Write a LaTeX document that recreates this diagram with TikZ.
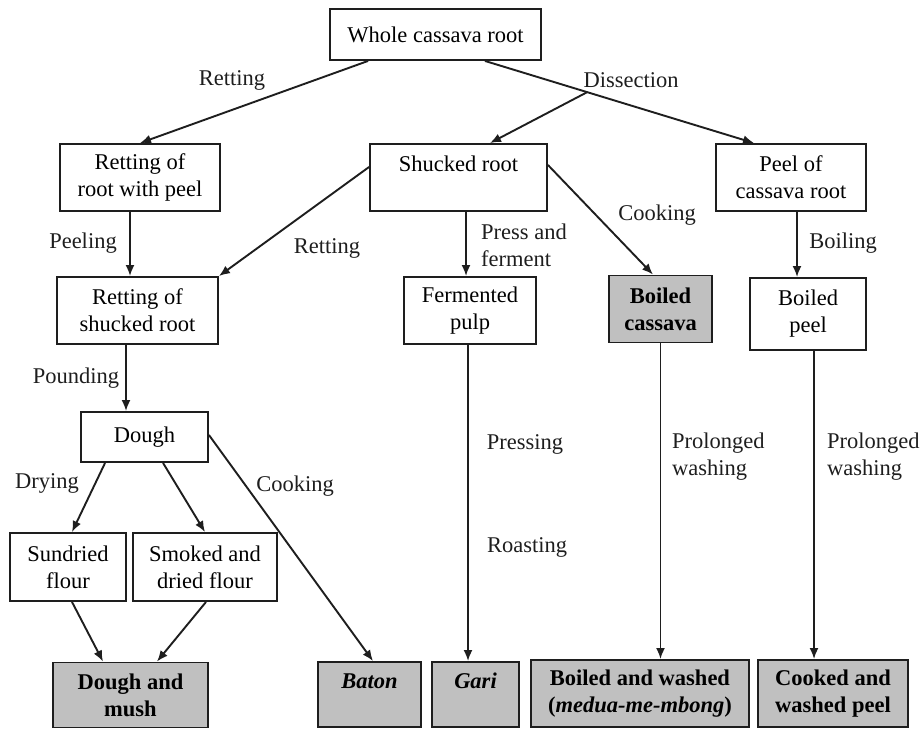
\documentclass[tikz,border=0pt]{standalone}
\usepackage{fontspec}
\setmainfont{Liberation Serif}
\usetikzlibrary{arrows.meta}
\definecolor{boxgray}{HTML}{C0C0C0}
\definecolor{inkgray}{HTML}{1E1E1E}

\begin{document}
\begin{tikzpicture}[x=1pt,y=-1pt,>={Latex[length=11pt,width=9pt]},
  font=\fontsize{22.5}{27}\selectfont,
  box/.style={draw=inkgray,line width=1.9pt,align=center,inner sep=0pt,minimum height=67pt},
  product/.style={box,fill=boxgray,font=\fontsize{22.5}{27}\selectfont\bfseries},
  flow/.style={->,draw=inkgray,line width=1.9pt},
  lab/.style={inkgray,align=left,inner sep=0pt}]
  \useasboundingbox (0,0) rectangle (920,728);
  % boxes
  \node[box,minimum width=211pt,minimum height=51pt] (whole) at (435.5,34.5) {Whole cassava root};
  \node[box,minimum width=160pt] (rwpeel) at (140,177.5) {Retting of\\root with peel};
  \node[box,minimum width=177pt] (shucked) at (458.5,177.5) {Shucked root\\\mbox{}};
  \node[box,minimum width=150pt] (peel) at (791,177.5) {Peel of\\cassava root};
  \node[box,minimum width=161pt] (rshucked) at (137.5,310.5) {Retting of\\shucked root};
  \node[box,minimum width=132pt] (pulp) at (470,310.5) {Fermented\\pulp};
  \node[product,minimum width=103pt] (boiled) at (660.5,309) {Boiled\\cassava};
  \node[box,minimum width=116pt,minimum height=72pt] (bpeel) at (808,314) {Boiled\\peel};
  \node[box,minimum width=127pt,minimum height=50pt] (dough) at (144.5,437) {Dough};
  \node[box,minimum width=116pt,minimum height=68pt] (sundried) at (68,567) {Sundried\\flour};
  \node[box,minimum width=144pt,minimum height=68pt] (smoked) at (205,567) {Smoked and\\dried flour};
  \node[product,minimum width=155pt,minimum height=65pt] (mush) at (130.5,695) {Dough and\\mush};
  \node[product,minimum width=103pt,minimum height=65pt] (baton) at (369.5,694.5) {\textit{Baton}\\\mbox{}};
  \node[product,minimum width=87pt,minimum height=65pt] (gari) at (475.5,694.5) {\textit{Gari}\\\mbox{}};
  \node[product,minimum width=218pt] (washed) at (640,693.5) {Boiled and washed\\(\textit{medua-me-mbong})};
  \node[product,minimum width=150pt] (wpeel) at (833,693.5) {Cooked and\\washed peel};

  % arrows
  \draw[flow] ([xshift=39pt]whole.south west) -- (rwpeel.north);
  \draw[flow] ([xshift=-57pt]whole.south east) -- ([xshift=-37pt]peel.north)
      coordinate[pos=0.38] (split);
  \draw[flow] (split) -- ([xshift=31.5pt]shucked.north);
  \draw[flow] ([yshift=10.5pt]shucked.west) -- (rshucked.north east);
  \draw[flow] ([xshift=-10pt]rwpeel.south) -- ([xshift=-10pt]rwpeel.south |- rshucked.north);
  \draw[flow] ([xshift=-4pt]pulp.north |- shucked.south) -- ([xshift=-4pt]pulp.north);
  \draw[flow] ([yshift=12.5pt]shucked.east) -- ([xshift=-7.5pt]boiled.north);
  \draw[flow] ([xshift=-11pt]bpeel.north |- peel.south) -- ([xshift=-11pt]bpeel.north);
  \draw[flow] ([xshift=-18.5pt]dough.north |- rshucked.south) -- ([xshift=-18.5pt]dough.north);
  \draw[flow] ([xshift=25pt]dough.south west) -- ([xshift=4pt]sundried.north);
  \draw[flow] ([xshift=83pt]dough.south west) -- (smoked.north);
  \draw[flow] ([yshift=2pt]dough.east) -- ([xshift=3.5pt]baton.north);
  \draw[flow] ([xshift=4pt]sundried.south) -- ([xshift=-27.5pt]mush.north);
  \draw[flow] ([xshift=1pt]smoked.south) -- ([xshift=26.5pt]mush.north);
  \draw[flow] ([xshift=-7.5pt]gari.north |- pulp.south) -- ([xshift=-7.5pt]gari.north);
  \draw[flow] (boiled.south) -- (boiled.south |- washed.north);
  \draw[flow] ([xshift=6pt]bpeel.south) -- ([xshift=6pt]bpeel.south |- wpeel.north);

  % labels
  \node[lab] (lretting) at (232,80) {Retting};
  \node[lab] (ldissect) at (631,80) {Dissection};
  \node[lab] (lpeeling) at (83,243) {Peeling};
  \node[lab] (lretting2) at (327,248) {Retting};
  \node[lab,anchor=west] (lpress) at (481,245) {Press and\\ferment};
  \node[lab] (lcooking) at (657,215) {Cooking};
  \node[lab] (lboiling) at (843,243) {Boiling};
  \node[lab] (lpounding) at (76,378) {Pounding};
  \node[lab] (ldrying) at (47,483) {Drying};
  \node[lab] (lcooking2) at (295,486) {Cooking};
  \node[lab] (lpressing) at (525,444) {Pressing};
  \node[lab] (lroasting) at (527,547) {Roasting};
  \node[lab,anchor=west] (lwash) at (672,457) {Prolonged\\washing};
  \node[lab,anchor=west] (lwash2) at (827,457) {Prolonged\\washing};
\end{tikzpicture}
\end{document}
